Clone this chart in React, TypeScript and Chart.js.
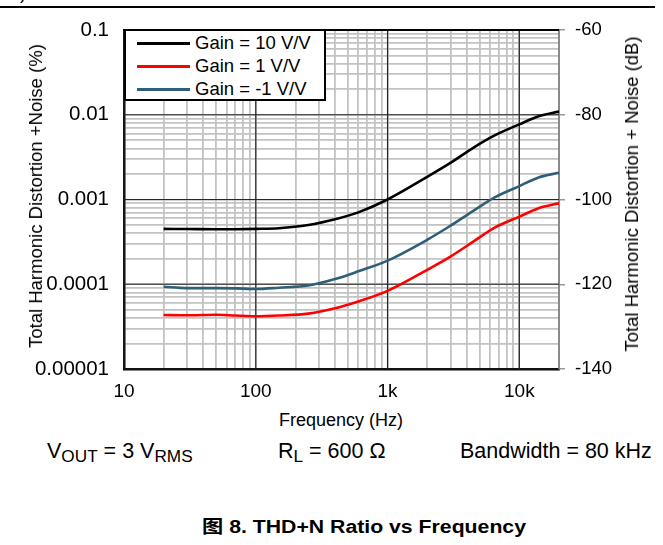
import React, { useEffect, useRef } from "react";
import { Chart, registerables } from "chart.js";

Chart.register(...registerables);

const FONT = "'Liberation Sans', Arial, Helvetica, sans-serif";

// Measured THD+N (%) versus frequency (Hz) for three gain settings
const freqHz = [20, 30, 50, 70, 100, 150, 250, 400, 600, 1000, 2000, 3000, 4500, 6500, 10000, 14000, 20000];
const thdGain10 = [0.00045, 0.000448, 0.000445, 0.000446, 0.00045, 0.000458, 0.0005, 0.000585, 0.000705, 0.001, 0.00185, 0.0027, 0.0041, 0.0057, 0.0077, 0.0096, 0.0109];
const thdGain1 = [0.0000434, 0.000043, 0.0000437, 0.0000427, 0.0000419, 0.0000427, 0.000045, 0.000052, 0.0000625, 0.0000835, 0.000148, 0.000212, 0.00032, 0.000465, 0.000627, 0.00079, 0.0009];
const thdGainNeg1 = [0.0000935, 0.00009, 0.00009, 0.0000895, 0.0000879, 0.000091, 0.0000965, 0.000115, 0.000142, 0.00019, 0.000335, 0.00049, 0.00074, 0.00106, 0.00144, 0.00182, 0.00207];

const seriesLabels = ["Gain = 10 V/V", "Gain = 1 V/V", "Gain = -1 V/V"];
const seriesColors = ["#000000", "#ff0000", "#2f5f78"];
const seriesValues = [thdGain10, thdGain1, thdGainNeg1];

// Axis ranges and labelled ticks
const xMin = 10;
const xMax = 20000;
const xMajorValues = [10, 100, 1000, 10000];
const xMajorLabels = ["10", "100", "1k", "10k"];
const yMin = 0.00001;
const yMax = 0.1;
const yMajorValues = [0.00001, 0.0001, 0.001, 0.01, 0.1];
const yMajorLabels = ["0.00001", "0.0001", "0.001", "0.01", "0.1"];
const dbMin = -140;
const dbMax = -60;
const dbTicks = [-140, -120, -100, -80, -60];

// 1..9 x 10^n grid positions inside a range
function logGrid(min: number, max: number): number[] {
  const out: number[] = [];
  for (let e = Math.floor(Math.log10(min)); e <= Math.ceil(Math.log10(max)); e++) {
    for (let m = 1; m <= 9; m++) {
      const v = m * Math.pow(10, e);
      if (v >= min * 0.999999 && v <= max * 1.000001) out.push(v);
    }
  }
  return out;
}

function labelFor(v: number, values: number[], labels: string[]): string {
  for (let i = 0; i < values.length; i++) {
    if (Math.abs(v - values[i]) / values[i] < 1e-6) return labels[i];
  }
  return "";
}

const MINOR = "#c3c3c3";
const MAJOR = "#262626";

// Decade lines and the top edge of the plot frame, drawn over the light grid
const framePlugin = {
  id: "frame",
  beforeDatasetsDraw(chart: any) {
    const { ctx, chartArea: a, scales } = chart;
    ctx.save();
    ctx.strokeStyle = MAJOR;
    ctx.lineWidth = 1.2;
    for (const v of xMajorValues) {
      const px = scales.x.getPixelForValue(v);
      ctx.beginPath();
      ctx.moveTo(px, a.top);
      ctx.lineTo(px, a.bottom);
      ctx.stroke();
    }
    for (const v of yMajorValues) {
      const py = scales.y.getPixelForValue(v);
      ctx.beginPath();
      ctx.moveTo(a.left, py);
      ctx.lineTo(a.right, py);
      ctx.stroke();
    }
    ctx.strokeStyle = "#000";
    ctx.lineWidth = 2;
    ctx.beginPath();
    ctx.moveTo(a.left, a.top);
    ctx.lineTo(a.right, a.top);
    ctx.stroke();
    ctx.restore();
  },
};

export default function App() {
  const canvasRef = useRef<HTMLCanvasElement>(null);

  useEffect(() => {
    const canvas = canvasRef.current;
    if (!canvas) return;
    const xGrid = logGrid(xMin, xMax);
    const yGrid = logGrid(yMin, yMax);
    const chart = new Chart(canvas, {
      type: "line",
      data: {
        datasets: seriesValues.map((vals, i) => ({
          label: seriesLabels[i],
          data: freqHz.map((f, j) => ({ x: f, y: vals[j] })),
          borderColor: seriesColors[i],
          backgroundColor: seriesColors[i],
          borderWidth: 2.6,
          pointRadius: 0,
          cubicInterpolationMode: "monotone" as const,
          yAxisID: "y",
        })),
      },
      plugins: [framePlugin],
      options: {
        responsive: false,
        animation: false,
        devicePixelRatio: 1,
        layout: { padding: { top: 30, left: 0, right: 0, bottom: 0 } },
        plugins: { legend: { display: false }, tooltip: { enabled: false } },
        scales: {
          x: {
            type: "logarithmic",
            position: "bottom",
            min: xMin,
            max: xMax,
            afterBuildTicks: (s: any) => {
              s.ticks = xGrid.map((v) => ({ value: v }));
            },
            afterFit: (s: any) => {
              s.height = 31;
            },
            ticks: {
              autoSkip: false,
              maxRotation: 0,
              minRotation: 0,
              padding: 11,
              color: "#000",
              font: { family: FONT, size: 19 },
              callback: (v: any) => labelFor(Number(v), xMajorValues, xMajorLabels),
            },
            grid: { color: MINOR, lineWidth: 1.8, drawTicks: false },
            border: { display: true, color: "#000", width: 2.5 },
          },
          y: {
            type: "logarithmic",
            position: "left",
            min: yMin,
            max: yMax,
            afterBuildTicks: (s: any) => {
              s.ticks = yGrid.map((v) => ({ value: v }));
            },
            afterFit: (s: any) => {
              s.width = 124;
            },
            ticks: {
              autoSkip: false,
              padding: 15,
              color: "#000",
              font: { family: FONT, size: 20.5 },
              callback: (v: any) => labelFor(Number(v), yMajorValues, yMajorLabels),
            },
            grid: { color: MINOR, lineWidth: 1.8, drawTicks: false },
            border: { display: true, color: "#000", width: 2.5 },
          },
          y2: {
            type: "linear",
            position: "right",
            min: dbMin,
            max: dbMax,
            afterBuildTicks: (s: any) => {
              s.ticks = dbTicks.map((v) => ({ value: v }));
            },
            afterFit: (s: any) => {
              s.width = 104;
            },
            ticks: {
              padding: 10,
              color: "#000",
              font: { family: FONT, size: 18.5 },
              callback: (v: any) => String(v),
            },
            grid: { drawOnChartArea: false, drawTicks: true, tickLength: 6, color: "#9a9a9a", lineWidth: 1.5 },
            border: { display: true, color: "#8a8a8a", width: 2 },
          },
        },
      },
    });
    return () => chart.destroy();
  }, []);

  const rowCenters = [43, 66, 89];
  const sub = { fontSize: "0.8em", position: "relative" as const, top: 4 };

  return (
    <div
      style={{
        position: "fixed",
        left: 0,
        top: 0,
        width: 663,
        height: 545,
        background: "#fff",
        overflow: "hidden",
        fontFamily: FONT,
        color: "#000",
      }}
    >
      <div style={{ position: "absolute", left: 20, top: -17, fontSize: 18, lineHeight: "20px" }}>)</div>
      <div style={{ position: "absolute", left: 0, top: 6, width: 655, height: 2, background: "#000" }} />

      <canvas
        ref={canvasRef}
        width={663}
        height={400}
        style={{ position: "absolute", left: 0, top: 0, width: 663, height: 400, display: "block" }}
      />

      {/* legend */}
      <div
        style={{
          position: "absolute",
          left: 124,
          top: 29,
          width: 202,
          height: 72,
          boxSizing: "border-box",
          border: "2px solid #000",
          background: "#fff",
        }}
      >
        {seriesLabels.map((lbl, i) => (
          <React.Fragment key={lbl}>
            <div
              style={{
                position: "absolute",
                left: 11,
                top: rowCenters[i] - 31 - 1.5,
                width: 53,
                height: 3,
                background: seriesColors[i],
              }}
            />
            <div
              style={{
                position: "absolute",
                left: 69,
                top: rowCenters[i] - 31 - 11,
                height: 22,
                lineHeight: "22px",
                fontSize: 18.5,
                whiteSpace: "nowrap",
              }}
            >
              {lbl}
            </div>
          </React.Fragment>
        ))}
      </div>

      {/* axis titles */}
      <div
        style={{
          position: "absolute",
          left: 36,
          top: 196,
          transform: "translate(-50%, -50%) rotate(-90deg)",
          fontSize: 18.5,
          whiteSpace: "nowrap",
          lineHeight: "22px",
        }}
      >
        Total Harmonic Distortion +Noise (%)
      </div>
      <div
        style={{
          position: "absolute",
          left: 632,
          top: 194,
          transform: "translate(-50%, -50%) rotate(-90deg)",
          fontSize: 18.5,
          whiteSpace: "nowrap",
          lineHeight: "22px",
        }}
      >
        Total Harmonic Distortion + Noise (dB)
      </div>
      <div
        style={{
          position: "absolute",
          left: 341,
          top: 420,
          transform: "translate(-50%, -50%)",
          fontSize: 18,
          whiteSpace: "nowrap",
          lineHeight: "22px",
        }}
      >
        Frequency (Hz)
      </div>

      {/* test conditions */}
      <div style={{ position: "absolute", left: 47, top: 439, fontSize: 21.5, lineHeight: "24px", whiteSpace: "nowrap" }}>
        V<span style={sub}>OUT</span> = 3 V<span style={sub}>RMS</span>
      </div>
      <div style={{ position: "absolute", left: 278, top: 439, fontSize: 21.5, lineHeight: "24px", whiteSpace: "nowrap" }}>
        R<span style={sub}>L</span> = 600 Ω
      </div>
      <div style={{ position: "absolute", left: 460, top: 439, fontSize: 21.5, lineHeight: "24px", whiteSpace: "nowrap" }}>
        Bandwidth = 80 kHz
      </div>

      {/* caption */}
      <div
        style={{
          position: "absolute",
          left: 202,
          top: 515,
          fontSize: 18,
          lineHeight: "24px",
          fontWeight: "bold",
          whiteSpace: "nowrap",
          fontFamily: "'Liberation Sans', 'Noto Sans CJK SC', Arial, sans-serif",
          transform: "scaleX(1.18)",
          transformOrigin: "left center",
        }}
      >
        图 8. THD+N Ratio vs Frequency
      </div>
    </div>
  );
}
